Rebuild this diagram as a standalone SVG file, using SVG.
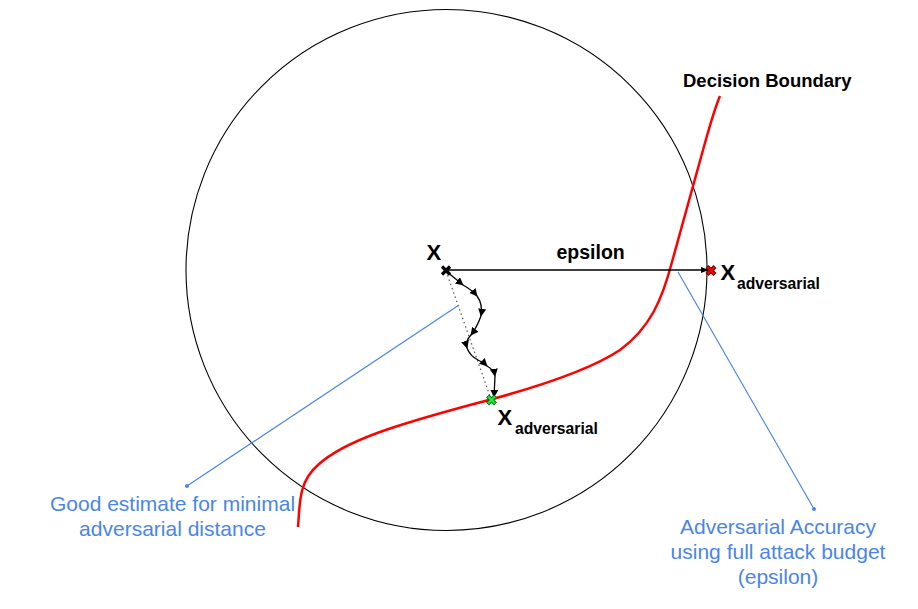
<svg xmlns="http://www.w3.org/2000/svg" width="918" height="609" viewBox="0 0 918 609">
<defs>
<style>
text{font-family:"Liberation Sans",Arial,sans-serif}
.bl{font-weight:bold;fill:#000}
.note{font-size:21px;fill:#4a86e8;text-anchor:middle}
.lead{stroke:#4a86e8;stroke-width:1.2;fill:none}
.step{stroke:#000;stroke-width:1.3;fill:none;marker-end:url(#ah)}
</style>
<marker id="ah" viewBox="0 0 10 10" refX="9" refY="5" markerWidth="8" markerHeight="8" markerUnits="userSpaceOnUse" orient="auto">
<path d="M0,0 L10,5 L0,10 z" fill="#000"/>
</marker>
<marker id="ah2" viewBox="0 0 10 10" refX="9" refY="5" markerWidth="8" markerHeight="8" markerUnits="userSpaceOnUse" orient="auto">
<path d="M0,1 L10,5 L0,9 z" fill="#000"/>
</marker>
</defs>
<rect width="918" height="609" fill="#fff"/>
<g id="circle">
<circle cx="446.5" cy="270" r="260.5" fill="none" stroke="#000" stroke-width="1.1"/>
</g>
<g id="boundary">
<path d="M298,527 C300,505 298,482 318,465 C345,440 400,424 470,405 C540,387 590,370 620,350 C650,328 662,300 672,262 C685,215 695,180 703,150 C710,125 714,110 720,96" fill="none" stroke="#ff0000" stroke-width="2.5"/>
<text class="bl" x="683" y="87" font-size="18.5">Decision Boundary</text>
</g>
<g id="connectors">
<line x1="446" y1="270" x2="708" y2="270" stroke="#000" stroke-width="1.5" marker-end="url(#ah2)"/>
<line x1="446" y1="271" x2="491" y2="399" stroke="#555" stroke-width="1.2" stroke-dasharray="1.5,3"/>
<path class="step" d="M446,271 L463,285"/>
<path class="step" d="M463,285 Q472,290 477,296"/>
<path class="step" d="M477,296 Q483,304 481,316"/>
<path class="step" d="M481,316 Q477,327 471,335"/>
<path class="step" d="M471,335 Q465,341 467,348"/>
<path class="step" d="M467,348 Q470,356 478,360 Q483,362 487,366"/>
<path class="step" d="M487,366 Q494,370 495,376"/>
<path class="step" d="M495,376 L494,397"/>
<line class="lead" x1="459" y1="305" x2="187" y2="486"/>
<circle cx="187" cy="486" r="2" fill="#4a86e8"/>
<line class="lead" x1="678" y1="272" x2="814" y2="509"/>
<circle cx="814" cy="509" r="2" fill="#4a86e8"/>
</g>
<g id="x">
<path d="M442,266.5 L450,274.5 M450,266.5 L442,274.5" stroke="#000" stroke-width="3.2"/>
<text class="bl" x="426.5" y="260" font-size="22">X</text>
<text class="bl" x="556.5" y="259" font-size="19.5">epsilon</text>
</g>
<g id="x-adv-far">
<path d="M707,266.5 L715,274.5 M715,266.5 L707,274.5" stroke="#600" stroke-width="4.2"/>
<path d="M707.5,267 L714.5,274 M714.5,267 L707.5,274" stroke="#ff0000" stroke-width="2.4"/>
<text class="bl" x="720.5" y="280" font-size="22">X</text>
<text class="bl" x="737" y="289" font-size="15.7">adversarial</text>
</g>
<g id="x-adv-near">
<path d="M487.5,396 L495.5,404 M495.5,396 L487.5,404" stroke="#063" stroke-width="4.2"/>
<path d="M488,396.5 L495,403.5 M495,396.5 L488,403.5" stroke="#22ee22" stroke-width="2.4"/>
<text class="bl" x="497.5" y="425" font-size="22">X</text>
<text class="bl" x="515" y="433.5" font-size="15.7">adversarial</text>
</g>
<g id="note-left">
<text class="note" x="172.5" y="511">Good estimate for minimal</text>
<text class="note" x="172.5" y="536">adversarial distance</text>
</g>
<g id="note-right">
<text class="note" x="778" y="534">Adversarial Accuracy</text>
<text class="note" x="778" y="559">using full attack budget</text>
<text class="note" x="778" y="584">(epsilon)</text>
</g>
</svg>
